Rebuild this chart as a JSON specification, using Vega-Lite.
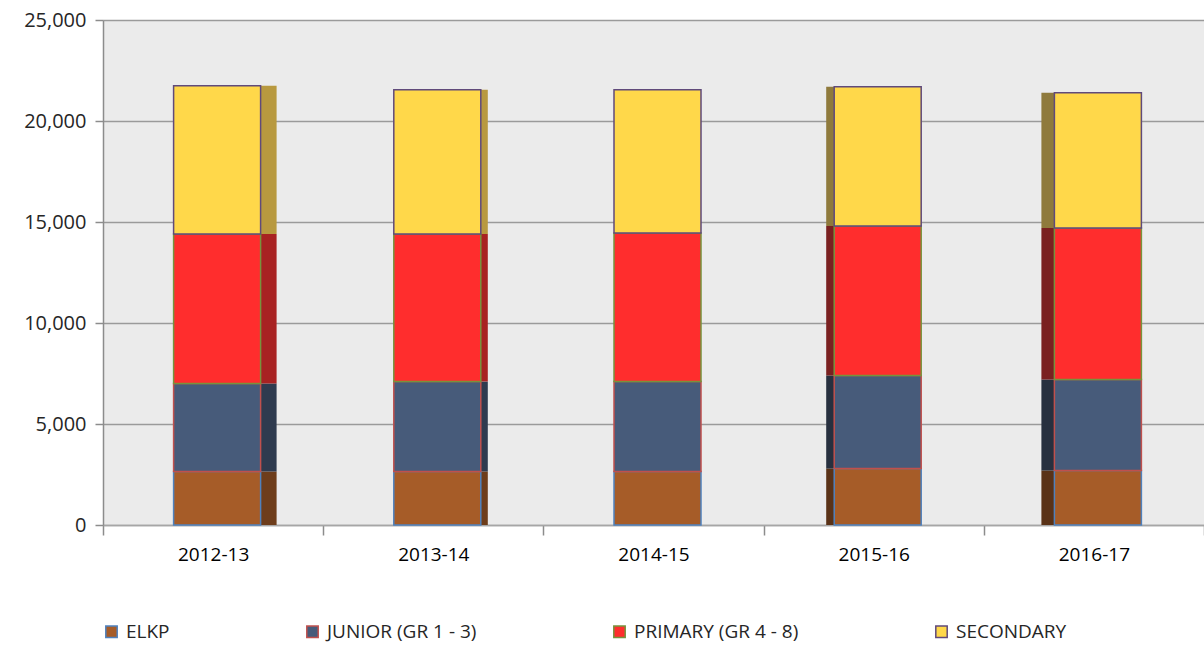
{
  "$schema": "https://vega.github.io/schema/vega-lite/v6.json",
  "autosize": "none",
  "width": 1101,
  "height": 505,
  "padding": {"left": 103, "top": 20, "right": 0, "bottom": 120},
  "background": "white",
  "config": {
    "view": {"stroke": null, "fill": "#ebebeb"},
    "font": "Open Sans",
    "legend": {"labelFont": "Open Sans"}
  },
  "data": {
    "values": [
      {"year": "2012-13", "level": "ELKP", "value": 2650},
      {"year": "2012-13", "level": "JUNIOR (GR 1 - 3)", "value": 4350},
      {"year": "2012-13", "level": "PRIMARY (GR 4 - 8)", "value": 7400},
      {"year": "2012-13", "level": "SECONDARY", "value": 7350},
      {"year": "2013-14", "level": "ELKP", "value": 2650},
      {"year": "2013-14", "level": "JUNIOR (GR 1 - 3)", "value": 4450},
      {"year": "2013-14", "level": "PRIMARY (GR 4 - 8)", "value": 7300},
      {"year": "2013-14", "level": "SECONDARY", "value": 7150},
      {"year": "2014-15", "level": "ELKP", "value": 2650},
      {"year": "2014-15", "level": "JUNIOR (GR 1 - 3)", "value": 4450},
      {"year": "2014-15", "level": "PRIMARY (GR 4 - 8)", "value": 7350},
      {"year": "2014-15", "level": "SECONDARY", "value": 7100},
      {"year": "2015-16", "level": "ELKP", "value": 2800},
      {"year": "2015-16", "level": "JUNIOR (GR 1 - 3)", "value": 4600},
      {"year": "2015-16", "level": "PRIMARY (GR 4 - 8)", "value": 7400},
      {"year": "2015-16", "level": "SECONDARY", "value": 6900},
      {"year": "2016-17", "level": "ELKP", "value": 2700},
      {"year": "2016-17", "level": "JUNIOR (GR 1 - 3)", "value": 4500},
      {"year": "2016-17", "level": "PRIMARY (GR 4 - 8)", "value": 7500},
      {"year": "2016-17", "level": "SECONDARY", "value": 6700}
    ]
  },
  "encoding": {
    "x": {
      "field": "year",
      "type": "nominal",
      "scale": {"type": "band", "paddingInner": 0, "paddingOuter": 0},
      "axis": {
        "title": null,
        "tickBand": "extent",
        "labelAngle": 0,
        "grid": false,
        "domainColor": "#a6a6a6",
        "domainWidth": 1.5,
        "tickColor": "#8c8c8c",
        "tickWidth": 1.5,
        "tickSize": 10,
        "labelFontSize": 19,
        "labelColor": "#000000",
        "labelPadding": 10
      }
    },
    "y": {
      "field": "value",
      "type": "quantitative",
      "stack": "zero",
      "scale": {"domain": [0, 25000], "nice": false},
      "axis": {
        "title": null,
        "values": [0, 5000, 10000, 15000, 20000, 25000],
        "format": ",d",
        "domainColor": "#8c8c8c",
        "domainWidth": 1.5,
        "tickColor": "#8c8c8c",
        "tickWidth": 1.5,
        "tickSize": 8,
        "labelFontSize": 20,
        "labelColor": "#262626",
        "labelPadding": 9,
        "gridColor": "#9a9a9a",
        "gridWidth": 1.5
      }
    },
    "order": {"field": "level", "sort": "ascending"}
  },
  "layer": [
    {
      "transform": [{"filter": "datum.year == '2012-13'"}],
      "mark": {"type": "bar", "width": 16, "xOffset": 55.5, "strokeWidth": 0},
      "encoding": {
        "fill": {"field": "level", "type": "nominal", "scale": {"range": ["#6e3d1b", "#2f3b4f", "#a82222", "#b8993f"]}, "legend": null}
      }
    },
    {
      "transform": [{"filter": "datum.year == '2013-14'"}],
      "mark": {"type": "bar", "width": 7, "xOffset": 51, "strokeWidth": 0},
      "encoding": {
        "fill": {"field": "level", "type": "nominal", "scale": {"range": ["#6e3d1b", "#2f3b4f", "#a82222", "#b8993f"]}, "legend": null}
      }
    },
    {
      "transform": [{"filter": "datum.year == '2015-16'"}],
      "mark": {"type": "bar", "width": 8, "xOffset": -43.5, "strokeWidth": 0},
      "encoding": {
        "fill": {"field": "level", "type": "nominal", "scale": {"range": ["#5a3217", "#27303f", "#7a2020", "#8f7a3c"]}, "legend": null}
      }
    },
    {
      "transform": [{"filter": "datum.year == '2016-17'"}],
      "mark": {"type": "bar", "width": 13, "xOffset": -46, "strokeWidth": 0},
      "encoding": {
        "fill": {"field": "level", "type": "nominal", "scale": {"range": ["#5a3217", "#27303f", "#7a2020", "#8f7a3c"]}, "legend": null}
      }
    },
    {
      "mark": {"type": "bar", "width": 87, "xOffset": 4, "strokeWidth": 1.5},
      "encoding": {
        "fill": {
          "field": "level",
          "type": "nominal",
          "scale": {"range": ["#a65c28", "#475b7a", "#ff2d2d", "#ffd84a"]},
          "legend": {
            "title": null,
            "orient": "none",
            "legendX": -1,
            "legendY": 602,
            "direction": "horizontal",
            "columnPadding": 133,
            "symbolType": "square",
            "symbolSize": 130,
            "symbolStrokeWidth": 1.5,
            "symbolOpacity": 1,
            "labelFontSize": 19,
            "labelLimit": 400,
            "labelColor": "#262626",
            "labelOffset": 5
          }
        },
        "stroke": {
          "field": "level",
          "type": "nominal",
          "scale": {"range": ["#4f81bd", "#c0504d", "#77933c", "#604a7b"]},
          "legend": {
            "title": null,
            "orient": "none",
            "legendX": -1,
            "legendY": 602,
            "direction": "horizontal",
            "columnPadding": 133,
            "symbolType": "square",
            "symbolSize": 130,
            "symbolStrokeWidth": 1.5,
            "symbolOpacity": 1,
            "labelFontSize": 19,
            "labelLimit": 400,
            "labelColor": "#262626",
            "labelOffset": 5
          }
        }
      }
    }
  ],
  "resolve": {"scale": {"fill": "independent", "stroke": "independent"}}
}
